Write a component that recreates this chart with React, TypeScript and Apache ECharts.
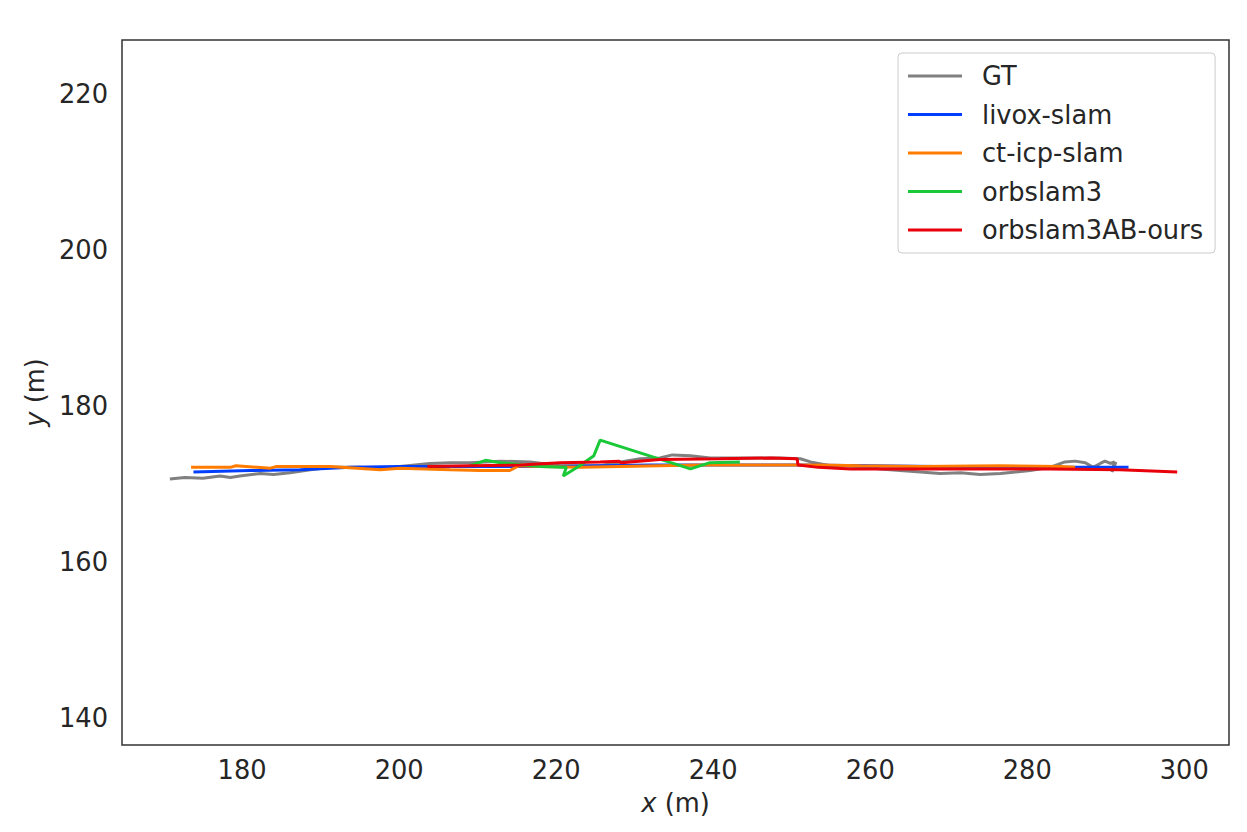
import React, { useEffect, useRef } from "react";
import * as echarts from "echarts";

const seriesNames = ["GT", "livox-slam", "ct-icp-slam", "orbslam3", "orbslam3AB-ours"];
const seriesColors = ["#808080", "#023eff", "#ff7c00", "#1ac938", "#e8000b"];

const xTicks = [180, 200, 220, 240, 260, 280, 300];
const yTicks = [140, 160, 180, 200, 220];

const gtX = [170.8, 172.7, 175.0, 177.2, 178.5, 179.7, 182.3, 184.0, 186.1, 188.7, 191.2, 195.0, 197.6, 200.1, 203.9, 206.5, 209.0, 212.9, 216.7, 220.5, 225.6, 228.2, 230.7, 233.2, 234.8, 237.1, 239.6, 243.4, 248.5, 251.1, 252.4, 254.9, 258.7, 261.3, 263.8, 266.4, 268.9, 271.5, 274.0, 276.6, 280.4, 282.9, 284.8, 286.1, 287.4, 288.4, 289.3, 289.9, 290.6, 291.1, 290.8, 291.3];
const gtY = [170.6, 170.8, 170.7, 171.0, 170.8, 171.0, 171.3, 171.2, 171.4, 171.8, 172.1, 172.1, 171.9, 172.2, 172.6, 172.7, 172.7, 172.9, 172.8, 172.3, 172.3, 172.8, 173.2, 173.3, 173.7, 173.6, 173.3, 173.3, 173.3, 173.2, 172.8, 172.3, 172.2, 171.9, 171.7, 171.5, 171.3, 171.4, 171.2, 171.3, 171.7, 172.1, 172.8, 172.9, 172.7, 172.1, 172.6, 172.9, 172.6, 172.8, 171.5, 172.8];

const livoxX = [173.8, 181.0, 187.4, 193.8, 200.1, 203.9, 210.0, 220.0, 225.6, 232.0, 238.3, 251.1, 260.0, 276.6, 288.7, 292.9];
const livoxY = [171.5, 171.7, 171.8, 172.1, 172.2, 172.2, 172.2, 172.2, 172.3, 172.4, 172.4, 172.4, 172.3, 172.1, 172.1, 172.1];

const ctX = [173.5, 178.5, 179.2, 183.6, 184.3, 191.2, 197.6, 200.1, 206.5, 210.3, 214.1, 215.2, 218.0, 223.1, 228.2, 233.2, 238.3, 243.4, 251.1, 253.6, 258.7, 266.4, 276.6, 284.2, 286.1];
const ctY = [172.1, 172.1, 172.3, 172.0, 172.2, 172.2, 171.8, 172.0, 171.8, 171.7, 171.7, 172.3, 172.2, 172.1, 172.2, 172.3, 172.4, 172.4, 172.4, 172.4, 172.3, 172.2, 172.3, 172.2, 172.1];

const orbX = [209.0, 211.0, 212.9, 218.0, 220.9, 221.3, 220.9, 223.0, 224.8, 225.6, 237.1, 239.6, 243.4];
const orbY = [172.3, 173.0, 172.7, 172.2, 172.1, 172.1, 171.0, 172.3, 173.6, 175.6, 171.9, 172.7, 172.8];

const oursX = [203.6, 209.0, 215.4, 220.5, 225.6, 228.0, 228.3, 233.2, 240.9, 247.3, 250.7, 250.8, 253.4, 257.5, 261.3, 270.2, 282.9, 291.8, 299.1];
const oursY = [172.2, 172.3, 172.4, 172.7, 172.8, 172.9, 172.7, 173.1, 173.2, 173.3, 173.2, 172.4, 172.1, 171.9, 171.9, 171.9, 171.9, 171.8, 171.5];

const allX = [gtX, livoxX, ctX, orbX, oursX];
const allY = [gtY, livoxY, ctY, orbY, oursY];

const zip = (xs: number[], ys: number[]) => xs.map((x, i) => [x, ys[i]]);

const TEXT = "#262626";
const FONT = "DejaVu Sans";
const FS = 25.7;

export default function App() {
  const ref = useRef<HTMLDivElement>(null);
  useEffect(() => {
    if (!ref.current) return;
    const chart = echarts.init(ref.current, undefined, { renderer: "svg" });
    chart.setOption({
      animation: false,
      backgroundColor: "#ffffff",
      textStyle: { fontFamily: FONT, color: TEXT },
      grid: {
        left: 122,
        top: 40,
        width: 1107,
        height: 705,
        show: true,
        borderColor: "#333333",
        borderWidth: 1.5,
        backgroundColor: "transparent",
      },
      legend: {
        orient: "vertical",
        left: 898,
        top: 53,
        padding: [10, 12, 10, 10],
        itemWidth: 54,
        itemHeight: 3,
        itemGap: 12.5,
        icon: "rect",
        backgroundColor: "#ffffff",
        borderColor: "#cccccc",
        borderWidth: 1,
        borderRadius: 4,
        textStyle: { fontFamily: FONT, fontSize: FS, color: TEXT, lineHeight: 25, padding: [0, 0, 0, 15] },
        data: seriesNames,
      },
      xAxis: {
        type: "value",
        min: 164.7,
        max: 305.7,
        name: "{i|x} (m)",
        nameLocation: "middle",
        nameGap: 45,
        nameTextStyle: {
          fontFamily: FONT,
          fontSize: FS,
          color: TEXT,
          rich: { i: { fontStyle: "italic", fontFamily: FONT, fontSize: FS, color: TEXT } },
        },
        axisLine: { show: false },
        axisTick: { show: false, customValues: xTicks },
        splitLine: { show: false },
        axisLabel: { customValues: xTicks, fontFamily: FONT, fontSize: FS, color: TEXT, margin: 12 },
      },
      yAxis: {
        type: "value",
        min: 136.5,
        max: 226.9,
        name: "{i|y} (m)",
        nameLocation: "middle",
        nameGap: 71,
        nameRotate: 90,
        nameTextStyle: {
          fontFamily: FONT,
          fontSize: FS,
          color: TEXT,
          rich: { i: { fontStyle: "italic", fontFamily: FONT, fontSize: FS, color: TEXT } },
        },
        axisLine: { show: false },
        axisTick: { show: false, customValues: yTicks },
        splitLine: { show: false },
        axisLabel: { customValues: yTicks, fontFamily: FONT, fontSize: FS, color: TEXT, margin: 14 },
      },
      series: seriesNames.map((name, i) => ({
        name,
        type: "line",
        data: zip(allX[i], allY[i]),
        symbol: "none",
        showSymbol: false,
        smooth: false,
        lineStyle: { color: seriesColors[i], width: 3 },
        itemStyle: { color: seriesColors[i] },
        z: 2 + i,
      })),
    });
    return () => chart.dispose();
  }, []);
  return <div ref={ref} style={{ width: 1247, height: 832, position: "absolute", left: 0, top: 0 }} />;
}
